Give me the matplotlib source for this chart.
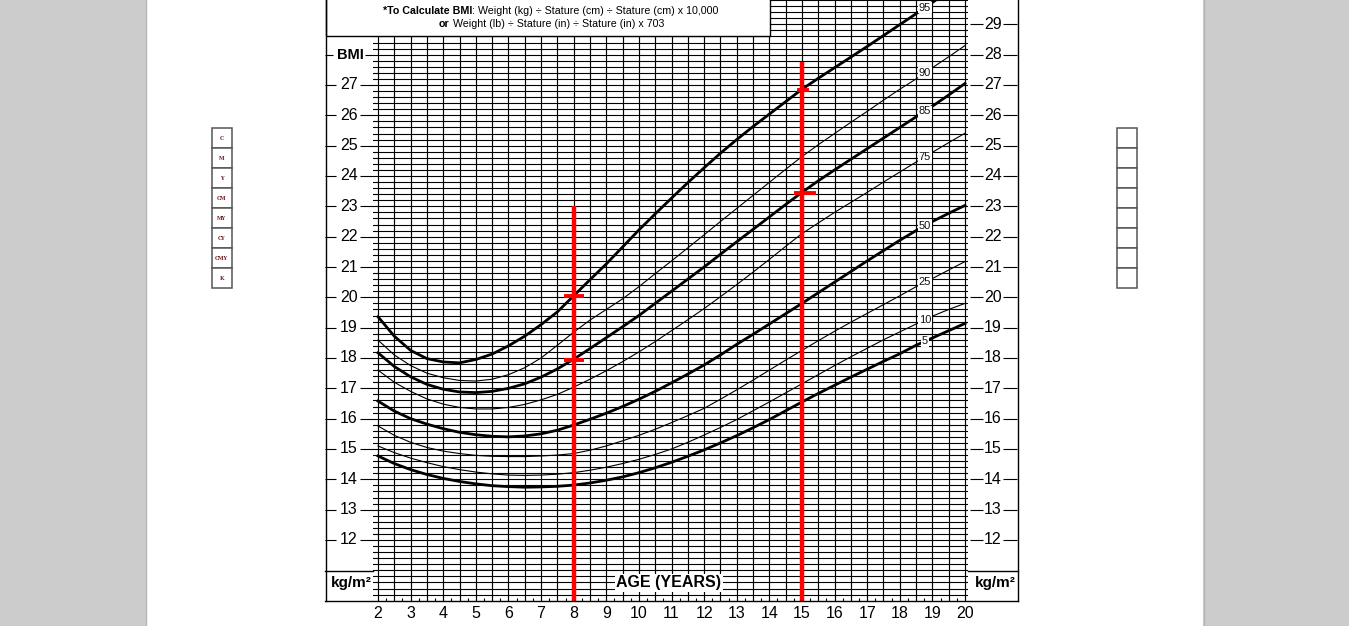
import numpy as np
import matplotlib
matplotlib.use('Agg')
import matplotlib.pyplot as plt
from matplotlib.patches import Rectangle

plt.rcParams['font.family'] = ['Liberation Sans', 'DejaVu Sans']

# --- data ---
AGES = np.arange(2.0, 20.01, 0.5)
P5 = [14.77, 14.52, 14.32, 14.16, 14.03, 13.93, 13.85, 13.79, 13.76, 13.74,
      13.75, 13.77, 13.81, 13.88, 13.97, 14.08, 14.22, 14.38, 14.56, 14.76,
      14.97, 15.20, 15.44, 15.70, 15.97, 16.26, 16.55, 16.83, 17.10, 17.37,
      17.63, 17.89, 18.14, 18.42, 18.66, 18.90, 19.14]
P10 = [15.10, 14.88, 14.70, 14.55, 14.42, 14.32, 14.24, 14.18, 14.14, 14.13,
       14.14, 14.17, 14.22, 14.30, 14.40, 14.52, 14.66, 14.82, 15.00, 15.22,
       15.46, 15.71, 15.97, 16.26, 16.55, 16.85, 17.15, 17.45, 17.75, 18.04,
       18.32, 18.60, 18.86, 19.12, 19.38, 19.60, 19.80]
P25 = [15.76, 15.45, 15.22, 15.05, 14.93, 14.85, 14.79, 14.76, 14.75, 14.75,
       14.77, 14.80, 14.85, 14.96, 15.10, 15.27, 15.45, 15.65, 15.87, 16.10,
       16.34, 16.64, 16.95, 17.27, 17.60, 17.93, 18.25, 18.57, 18.88, 19.18,
       19.47, 19.76, 20.05, 20.35, 20.62, 20.90, 21.18]
P50 = [16.58, 16.25, 16.00, 15.82, 15.67, 15.55, 15.47, 15.42, 15.40, 15.43,
       15.50, 15.62, 15.79, 15.98, 16.18, 16.40, 16.64, 16.90, 17.18, 17.47,
       17.77, 18.10, 18.45, 18.78, 19.12, 19.46, 19.80, 20.15, 20.50, 20.85,
       21.20, 21.54, 21.88, 22.20, 22.50, 22.77, 23.03]
P75 = [17.60, 17.20, 16.90, 16.65, 16.48, 16.37, 16.32, 16.32, 16.37, 16.47,
       16.62, 16.80, 17.04, 17.30, 17.58, 17.88, 18.20, 18.54, 18.90, 19.26,
       19.63, 20.02, 20.42, 20.83, 21.25, 21.68, 22.10, 22.45, 22.80, 23.13,
       23.46, 23.80, 24.13, 24.46, 24.78, 25.10, 25.41]
P85 = [18.17, 17.72, 17.38, 17.13, 16.97, 16.88, 16.86, 16.90, 17.00, 17.15,
       17.37, 17.64, 17.96, 18.31, 18.67, 19.03, 19.40, 19.80, 20.20, 20.60,
       21.00, 21.42, 21.83, 22.24, 22.65, 23.06, 23.46, 23.84, 24.20, 24.55,
       24.90, 25.25, 25.60, 25.95, 26.30, 26.67, 27.05]
P90 = [18.59, 18.10, 17.75, 17.50, 17.35, 17.26, 17.24, 17.30, 17.45, 17.68,
       18.00, 18.42, 18.85, 19.25, 19.60, 19.95, 20.35, 20.78, 21.20, 21.63,
       22.06, 22.50, 22.93, 23.36, 23.79, 24.22, 24.64, 25.03, 25.40, 25.77,
       26.13, 26.50, 26.86, 27.20, 27.57, 27.93, 28.30]
P95 = [19.36, 18.72, 18.25, 17.98, 17.87, 17.84, 17.95, 18.13, 18.40, 18.72,
       19.10, 19.52, 20.05, 20.58, 21.10, 21.66, 22.22, 22.75, 23.27, 23.78,
       24.27, 24.75, 25.20, 25.63, 26.04, 26.45, 26.86, 27.22, 27.57, 27.92,
       28.27, 28.63, 28.99, 29.35, 29.72, 30.10, 30.50]
CURVES = [(5, P5), (10, P10), (25, P25), (50, P50),
          (75, P75), (85, P85), (90, P90), (95, P95)]
THICK = [5, 50, 85, 95]

RED_AGES = [8, 15]
RED_TOPS = [23.0, 27.75]
RED_MARKS = [[20.05, 17.95], [26.85, 23.45]]

AGE_TICKS = list(range(2, 21))
LEFT_BMI = list(range(12, 28))
RIGHT_BMI = list(range(12, 30))

W, H = 1349, 626
YEAR_PX = 587 / 18.0
UNIT_PY = 455 / 15.0


def age_at(px):
    return 2 + (px - 378) / YEAR_PX


def bmi_at(py):
    return 27 - (py - 85) / UNIT_PY


fig = plt.figure(figsize=(W / 100, H / 100), dpi=100, facecolor='#cccccc')

bg = fig.add_axes([0, 0, 1, 1], zorder=0)
bg.set_xlim(0, W)
bg.set_ylim(H, 0)
bg.axis('off')
bg.add_patch(Rectangle((146, 0), 1057, H, fc='white', ec='none'))
bg.plot([145.5, 145.5], [0, H], color='#b5b5b5', lw=1)
bg.plot([1203.5, 1203.5], [0, H], color='#b5b5b5', lw=1)

# colour bars on both sides of the page
cmyk = ['C', 'M', 'Y', 'CM', 'MY', 'CY', 'CMY', 'K']
for i, lab in enumerate(cmyk):
    bg.add_patch(Rectangle((211.5, 128 + 20 * i), 20, 20, fc='white', ec='#555555', lw=1.1))
    bg.text(221.5, 138 + 20 * i, lab, fontsize=3.6, ha='center', va='center',
            color='#6b1d1d', weight='bold', family='DejaVu Serif')
    bg.add_patch(Rectangle((1116.5, 128 + 20 * i), 20, 20, fc='white', ec='#555555', lw=1.1))

# chart axes
x0, x1 = age_at(373), age_at(968)
y0, y1 = 10.0, 29.8
left = 373
right = 968
bottom = 85 + (27 - y0) * UNIT_PY
top = 85 + (27 - y1) * UNIT_PY
ax = fig.add_axes([left / W, 1 - bottom / H, (right - left) / W, (bottom - top) / H], zorder=1)
ax.set_facecolor('none')
ax.set_xlim(x0, x1)
ax.set_ylim(y0, y1)
ax.axis('off')

for b in np.arange(10.2, 29.81, 0.2):
    ax.axhline(b, color='black', lw=0.8, zorder=1)
for a in np.arange(2, 20.01, 0.5):
    ax.axvline(a, color='black', lw=0.85, zorder=1)
ax.vlines(np.arange(2.25, 20, 0.5), y0, y0 + 0.1, color='black', lw=0.8)

for p, vals in CURVES:
    ax.plot(AGES, vals, color='black', lw=2.0 if p in THICK else 0.8, zorder=3)
    ly = np.interp(18.77, AGES, vals)
    ax.text(18.77, ly, str(p), fontsize=8, ha='center', va='center', color='#111111',
            zorder=4, bbox=dict(fc='white', ec='none', pad=0.4))

ax.vlines(RED_AGES, y0, RED_TOPS, color='#ff0000', lw=3.2, zorder=5)
ax.hlines(RED_MARKS[0], 8 - 0.31, 8 + 0.31, color='#ff0000', lw=2.8, zorder=5)
ax.hlines(RED_MARKS[1][0], 15 - 0.15, 15 + 0.22, color='#ff0000', lw=2.8, zorder=5)
ax.hlines(RED_MARKS[1][1], 15 - 0.24, 15 + 0.43, color='#ff0000', lw=2.8, zorder=5)

# margin labels
for b in LEFT_BMI:
    ax.text(age_at(349), b, str(b), fontsize=11.5, ha='center', va='center', clip_on=False)
    ax.hlines(b, age_at(325), age_at(336), color='black', lw=0.8, clip_on=False)
    ax.hlines(b, age_at(360), age_at(373), color='black', lw=0.8, clip_on=False)
ax.text(age_at(350), 28, 'BMI', fontsize=10.5, weight='bold', ha='center', va='center', clip_on=False)
ax.hlines(28, age_at(325), age_at(333), color='black', lw=0.8, clip_on=False)
ax.hlines(28, age_at(365), age_at(373), color='black', lw=0.8, clip_on=False)
for b in RIGHT_BMI:
    ax.text(age_at(993), b, str(b), fontsize=11.5, ha='center', va='center', clip_on=False)
    ax.hlines(b, age_at(970), age_at(983), color='black', lw=0.8, clip_on=False)
    ax.hlines(b, age_at(1003), age_at(1017), color='black', lw=0.8, clip_on=False)
for a in AGE_TICKS:
    ax.text(a, bmi_at(613), str(a), fontsize=11.5, ha='center', va='center', clip_on=False)

ax.text(age_at(669), bmi_at(583), 'AGE (YEARS)', fontsize=11.5, weight='bold', ha='center',
        va='center', zorder=6, bbox=dict(fc='white', ec='none', pad=1.0))
ax.text(age_at(351), bmi_at(583), 'kg/m²', fontsize=11, weight='bold', ha='center', va='center', clip_on=False)
ax.text(age_at(995), bmi_at(583), 'kg/m²', fontsize=11, weight='bold', ha='center', va='center', clip_on=False)

# frame and formula box
fg = fig.add_axes([0, 0, 1, 1], zorder=2)
fg.set_facecolor('none')
fg.set_xlim(0, W)
fg.set_ylim(H, 0)
fg.axis('off')
fg.plot([325.5, 325.5], [0, 600.5], color='black', lw=1.0)
fg.plot([1017.5, 1017.5], [0, 600.5], color='black', lw=1.0)
fg.plot([325, 1018], [600.5, 600.5], color='black', lw=1.0)
fg.plot([325, 373], [570.5, 570.5], color='black', lw=1.0)
fg.plot([968, 1018], [570.5, 570.5], color='black', lw=1.0)
fg.add_patch(Rectangle((325.5, -5), 444.5, 40.5, fc='white', ec='black', lw=1.0))

t1 = fg.text(383, 11, '*To Calculate BMI', fontsize=7.7, weight='bold', va='center')
fg.annotate(': Weight (kg) ÷ Stature (cm) ÷ Stature (cm) x 10,000', xy=(1, 0.5), xycoords=t1,
            fontsize=7.7, va='center', ha='left')
t2 = fg.text(439, 24, 'or', fontsize=7.7, weight='bold', va='center')
fg.annotate(' Weight (lb) ÷ Stature (in) ÷ Stature (in) x 703', xy=(1, 0.5), xycoords=t2,
            fontsize=7.7, va='center', ha='left')

fig.savefig('out.png', dpi=100, facecolor=fig.get_facecolor())
